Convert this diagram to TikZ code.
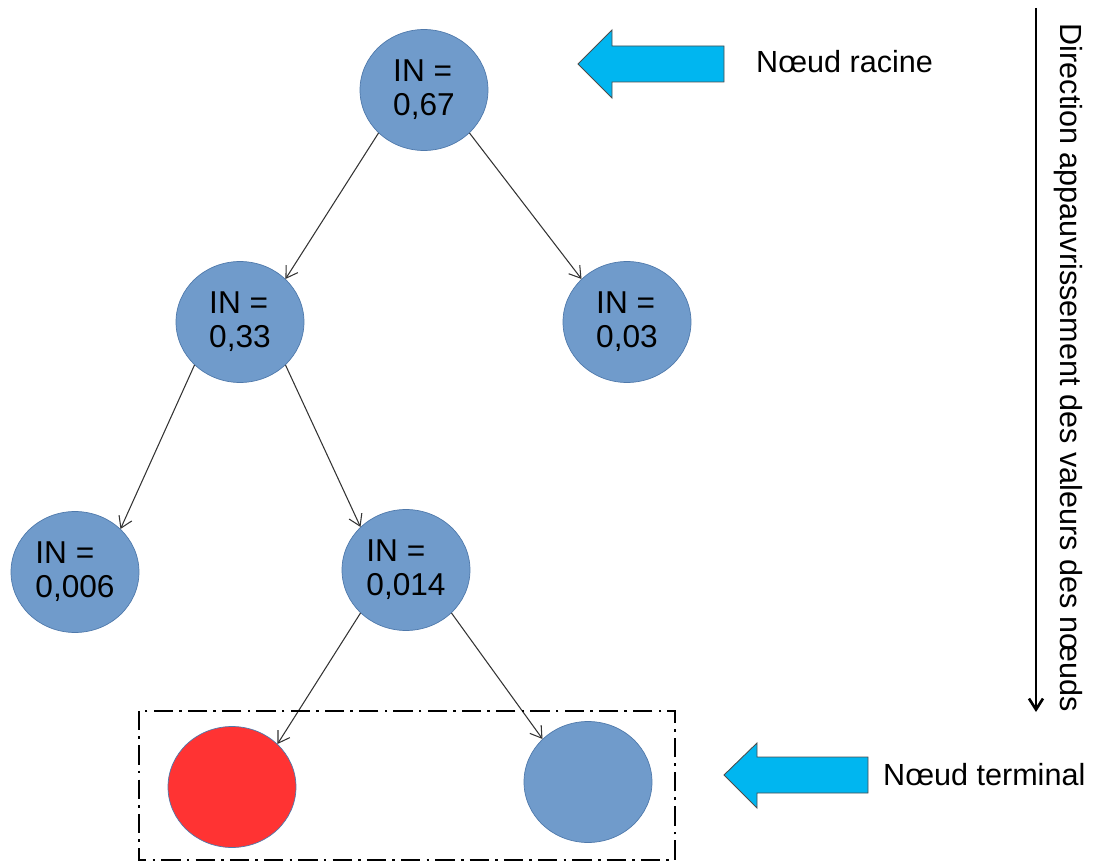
\documentclass[tikz,border=0pt]{standalone}
\usepackage{fontspec}
\setmainfont{Liberation Sans}
\usetikzlibrary{positioning}
\usetikzlibrary{arrows.meta}
\usetikzlibrary{shapes.geometric}

\definecolor{nodeblue}{RGB}{112,155,203}
\definecolor{nodeedge}{RGB}{79,121,171}
\definecolor{leafred}{RGB}{255,51,51}
\definecolor{pointer}{RGB}{0,182,240}

\begin{document}
\begin{tikzpicture}[x=0.02cm,y=-0.02cm,>={Straight Barb[length=2.2mm,width=2.8mm]},
    treenode/.style={ellipse,draw=nodeedge,fill=nodeblue,minimum width=2.56cm,minimum height=2.42cm,
      inner sep=0pt,align=left,font=\fontsize{18}{19.5}\selectfont},
    link/.style={->,draw=black!80,line width=0.6pt},
    pointerarrow/.style={draw=black!70,fill=pointer,line width=0.5pt},
    caption/.style={font=\fontsize{17.4}{20}\selectfont}]
    \useasboundingbox (0,0) rectangle (1093,865);
    \node (Root) [treenode] at (424,90) {IN =\\0,67};
    \node (A) [treenode] at (240,322) {IN =\\0,33};
    \node (B) [treenode] at (627,322) {IN =\\0,03};
    \node (C) [treenode] at (75,572) {IN =\\0,006};
    \node (D) [treenode] at (406,570) {IN =\\0,014};
    \node (E) [treenode,fill=leafred] at (232,787) {};
    \node (F) [treenode] at (588,782) {};
    \draw [link] (Root.south west) -- (A.north east);
    \draw [link] (Root.south east) -- (B.north west);
    \draw [link] (A.south west) -- (C.north east);
    \draw [link] (A.south east) -- (D.north west);
    \draw [link] (D.south west) -- (E.north east);
    \draw [link] (D.south east) -- (F.north west);
    % terminal nodes frame
    \draw [line width=1.4pt,dash pattern=on 11pt off 3.5pt on 1.5pt off 3.5pt] (139,711) rectangle (675,860);
    % pointers
    \draw [pointerarrow] (578,64) -- (612,30) -- (612,46) -- (724,46) -- (724,82) -- (612,82) -- (612,98) -- cycle;
    \node (RootLabel) [caption,anchor=west] at (750,62) {Nœud racine};
    \draw [pointerarrow] (724,775) -- (757,743) -- (757,757) -- (868,757) -- (868,793) -- (757,793) -- (757,808) -- cycle;
    \node (LeafLabel) [caption,anchor=west] at (877,775) {Nœud terminal};
    % direction
    \coordinate (DirTop) at (1036,8);
    \coordinate (DirEnd) at (1036,712);
    \draw [->,line width=1.5pt] (DirTop) -- (DirEnd);
    \node (DirLabel) [caption,rotate=-90] at (1068,368) {Direction appauvrissement des valeurs des nœuds};
\end{tikzpicture}
\end{document}
